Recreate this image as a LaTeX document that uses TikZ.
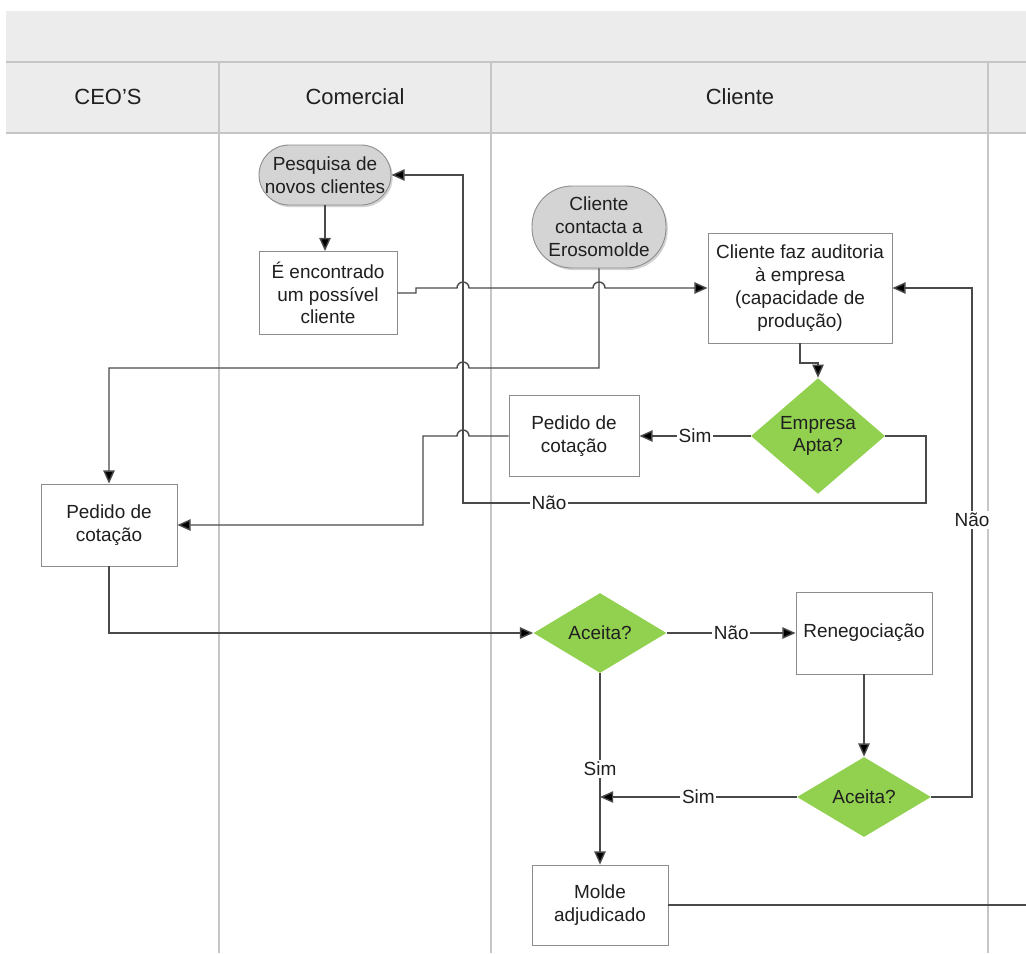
\documentclass[tikz,border=0pt]{standalone}
\usepackage{fontspec}
\setmainfont{Liberation Sans}
\usetikzlibrary{arrows.meta,shapes.geometric,shadows}
\definecolor{bandbg}{HTML}{ECECEC}
\definecolor{laneline}{HTML}{C6C6C6}
\definecolor{boxline}{HTML}{8C8C8C}
\definecolor{wire}{HTML}{4A4A4A}
\definecolor{termfill}{HTML}{D4D4D4}
\definecolor{decfill}{HTML}{92D050}
\tikzset{
  txt/.style={font=\fontsize{10.8}{13}\selectfont, align=center, text=black!88},
  box/.style={txt, rectangle, draw=boxline, line width=0.5pt, fill=white, inner sep=2pt},
  term/.style={txt, rectangle, draw=boxline, line width=0.5pt, fill=termfill, inner sep=2pt,
    drop shadow={shadow xshift=1pt, shadow yshift=-1.2pt, opacity=0.35}},
  dec/.style={txt, diamond, fill=decfill, draw=none, inner sep=0pt},
  conn/.style={draw=wire, line width=0.8pt, -{Triangle[length=7.5pt,width=6.5pt,fill=black]}},
  plain/.style={draw=wire, line width=0.8pt},
  lbl/.style={txt, fill=white, inner sep=1pt},
  lane/.style={draw=laneline, line width=1pt},
  head/.style={font=\fontsize{12.5}{15}\selectfont, text=black!88},
}
\begin{document}
\begin{tikzpicture}[x=0.02cm,y=-0.02cm]
\useasboundingbox (0,0) rectangle (1026,953);
\fill[white] (0,0) rectangle (1026,953);

% header band and lane titles
\fill[bandbg] (6,11) rectangle (1026,133);
\draw[lane, line width=1.2pt] (6,62) -- (1026,62);
\draw[lane, line width=1.2pt] (6,133) -- (1026,133);
\draw[lane] (219,62) -- (219,953);
\draw[lane] (491,62) -- (491,953);
\draw[lane] (988,62) -- (988,953);
\node[head] (hceo) at (108,97) {CEO’S};
\node[head] (hcom) at (355,97) {Comercial};
\node[head] (hcli) at (740,97) {Cliente};

% process steps
\node[term, rounded corners=0.6cm, minimum width=2.64cm, minimum height=1.2cm] (pesq) at (325,175) {Pesquisa de\\novos clientes};
\node[box, minimum width=2.76cm, minimum height=1.66cm] (enc) at (328,293) {É encontrado\\um possível\\cliente};
\node[term, rounded corners=0.8cm, minimum width=2.68cm, minimum height=1.64cm] (cont) at (599,227) {Cliente\\contacta a\\Erosomolde};
\node[box, minimum width=3.68cm, minimum height=2.2cm] (aud) at (800,288) {Cliente faz auditoria\\à empresa\\(capacidade de\\produção)};
\node[dec, minimum width=2.68cm, minimum height=1.64cm] (apta) at (818,436) {Empresa\\Apta?};
\node[box, minimum width=2.6cm, minimum height=1.62cm] (pc) at (574,436) {Pedido de\\cotação};
\node[box, minimum width=2.72cm, minimum height=1.64cm] (ceo) at (109,525) {Pedido de\\cotação};
\node[dec, minimum width=2.66cm, minimum height=1.6cm] (ac1) at (600,633) {Aceita?};
\node[box, minimum width=2.72cm, minimum height=1.64cm] (ren) at (864,633) {Renegociação};
\node[dec, minimum width=2.68cm, minimum height=1.6cm] (ac2) at (864,797) {Aceita?};
\node[box, minimum width=2.72cm, minimum height=1.6cm] (mol) at (600,905) {Molde\\adjudicado};

\coordinate (join) at (600,797);
\coordinate (offr) at (1026,905);

% connectors
\draw[conn] (pesq.south) -- (pesq.south |- enc.north);
\draw[conn] (enc.east) -- (416,293) -- (416,288) -- (457,288)
  arc[start angle=180, end angle=0, radius=0.12cm] -- (593,288)
  arc[start angle=180, end angle=0, radius=0.12cm] -- (aud.west);
\draw[conn] (cont.south) |- (469,368)
  arc[start angle=0, end angle=180, radius=0.12cm] -- (ceo.north |- 0,368) -- (ceo.north);
\draw[conn] (aud.south) -- (800,363) -| (apta.north);
\draw[conn] (apta.west) -- node[lbl] {Sim} (pc.east);
\draw[conn] (apta.east) -| (926,503) -- (463,503) |- (pesq.east);
\node[lbl] at (549,503) {Não};
\draw[conn] (pc.west) -- (469,436)
  arc[start angle=0, end angle=180, radius=0.12cm] -- (423,436) |- (ceo.east);
\draw[conn] (ceo.south) |- (ac1.west);
\draw[conn] (ac1.east) -- node[lbl] {Não} (ren.west);
\draw[conn] (ac1.south) -- node[lbl] {Sim} (mol.north);
\draw[conn] (ren.south) -- (ac2.north);
\draw[conn] (ac2.west) -- node[lbl] {Sim} (join);
\draw[conn] (ac2.east) -- (972,797) -- (972,288) -- (aud.east);
\node[lbl] at (972,520) {Não};
\draw[plain] (mol.east) -- (offr);
\end{tikzpicture}
\end{document}
